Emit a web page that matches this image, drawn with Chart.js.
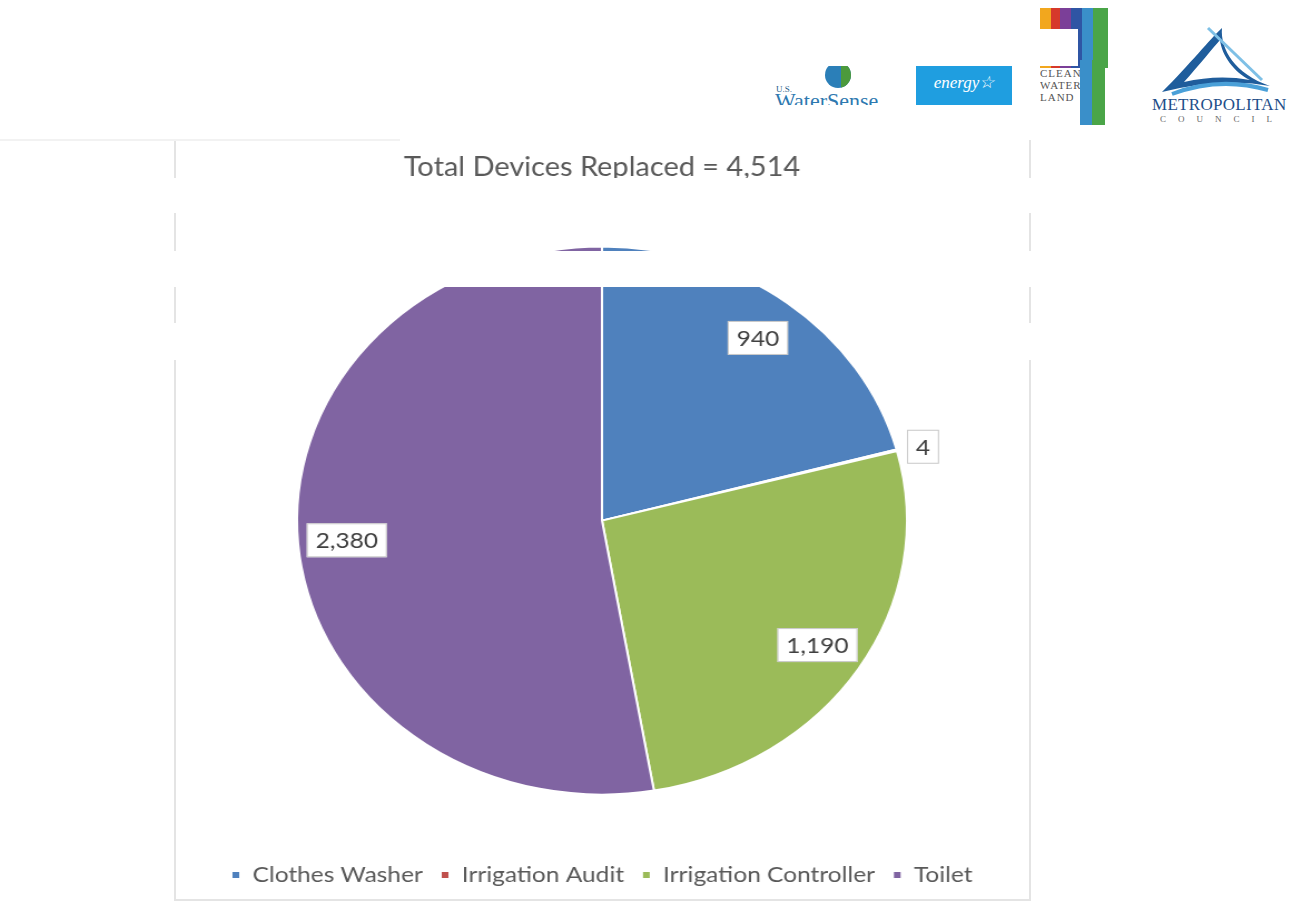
<!DOCTYPE html>
<html>
<head>
<meta charset="utf-8">
<script src="https://cdn.jsdelivr.net/npm/chart.js@4.4.1/dist/chart.umd.min.js"></script>
<style>
body{margin:0;background:#fff;width:1306px;height:903px;overflow:hidden;position:relative;font-family:Lato,"Open Sans",sans-serif}
.abs{position:absolute}
#wrap{position:absolute;left:218px;top:140px;width:768px;height:760px;transform:scaleX(1.113);transform-origin:center center}
.vline{position:absolute;width:2px;background:#e4e4e4}
.band{position:absolute;background:#fff}
</style>
</head>
<body>
<!-- chart frame -->
<div class="vline" style="left:174px;top:140px;height:760px"></div>
<div class="vline" style="left:1029px;top:140px;height:760px"></div>
<div class="abs" style="left:174px;top:899px;width:857px;height:2px;background:#e4e4e4"></div>

<div id="wrap"><canvas id="pie" width="768" height="760"></canvas></div>

<!-- white scan bands -->
<div class="band" style="left:160px;top:178px;width:890px;height:35px"></div>
<div class="band" style="left:160px;top:251px;width:890px;height:36px"></div>
<div class="band" style="left:160px;top:323px;width:30px;height:37px"></div>
<div class="band" style="left:1010px;top:323px;width:40px;height:37px"></div>
<div class="abs" style="left:0;top:139px;width:400px;height:2px;background:#f2f2f2"></div>

<!-- logos -->
<div class="abs" style="left:825px;top:62px;width:26px;height:26px;border-radius:50%;background:#2b7fb8;overflow:hidden"><div style="position:absolute;left:16px;top:0;width:14px;height:26px;background:#4c9a3c"></div></div>
<div class="abs" style="left:776px;top:84px;font:9px 'Liberation Serif';color:#2b5f8a">U.S.</div>
<div class="abs" style="left:775px;top:88px;width:125px;height:17px;overflow:hidden;font:22px 'Liberation Serif';color:#2e79b0;line-height:26px">WaterSense</div>
<div class="abs" style="left:916px;top:66px;width:96px;height:39px;background:#1f9ee0;color:#fff;font:italic 17px 'Liberation Serif';line-height:34px;text-align:center">energy&#9734;</div>
<div class="abs" style="left:1040px;top:8px;width:68px;height:60px;background:linear-gradient(90deg,#f2a71e 0 16%,#d6392b 16% 30%,#7b3f98 30% 45%,#2f55a4 45% 62%,#3a8fc9 62% 78%,#4aa548 78% 100%)"></div>
<div class="abs" style="left:1080px;top:60px;width:25px;height:65px;background:linear-gradient(90deg,#3a8fc9 0 50%,#4aa548 50% 100%)"></div>
<div class="band" style="left:750px;top:29px;width:328px;height:37px"></div>
<div class="abs" style="left:1040px;top:67px;width:40px;height:38px;overflow:hidden;font:11px 'Liberation Serif';color:#555;line-height:12px;letter-spacing:1px">CLEAN<br>WATER<br>LAND &amp;</div>
<svg class="abs" style="left:1150px;top:24px" width="130" height="75" viewBox="0 0 130 75">
<path d="M12 68 C40 40 60 15 72 4 C70 25 85 50 120 62 C90 56 50 58 12 68 Z" fill="#1f5d9c"/>
<path d="M34 58 C50 40 62 25 70 16 C72 32 84 48 100 56 C78 52 56 53 34 58 Z" fill="#fff"/>
<path d="M22 70 Q70 52 118 66" fill="none" stroke="#4aa0d8" stroke-width="4"/>
<path d="M58 4 L112 56" stroke="#7ec0e6" stroke-width="3"/>
</svg>
<div class="abs" style="left:1152px;top:95px;font:17px 'Liberation Serif';color:#1f4f8a;letter-spacing:0.3px">METROPOLITAN</div>
<div class="abs" style="left:1160px;top:114px;font:9px 'Liberation Serif';color:#666;letter-spacing:12px">COUNCIL</div>

<script>
const categories = ["Clothes Washer", "Irrigation Audit", "Irrigation Controller", "Toilet"]
const devices = [940, 4, 1190, 2380]
const labelText = ["940", "4", "1,190", "2,380"]
const colors = ["#4f81bd", "#c0504d", "#9bbb59", "#8064a2"]
const titleText = "Total Devices Replaced = 4,514"

/* LABEL BOXES */
const boxLabels = {
  id: "boxLabels",
  afterDatasetsDraw(chart){
    const ctx = chart.ctx
    const meta = chart.getDatasetMeta(0)
    const total = devices.reduce((a,b)=>a+b,0)
    ctx.save()
    ctx.font = "22px Lato"
    ctx.textAlign = "center"
    ctx.textBaseline = "middle"
    meta.data.forEach((arc,i)=>{
      const p = arc.getProps(["x","y","startAngle","endAngle","outerRadius"],true)
      const mid = (p.startAngle+p.endAngle)/2
      const small = devices[i]/total < 0.02
      const r = p.outerRadius*(small ? 1.05 : 0.84)
      let x = p.x+Math.cos(mid)*r
      const y = p.y+Math.sin(mid)*r
      const w = ctx.measureText(labelText[i]).width+16
      if(small) x += w/2-4
      ctx.fillStyle = "#fff"
      ctx.fillRect(x-w/2, y-17, w, 34)
      ctx.strokeStyle = "#c8c8c8"
      ctx.lineWidth = 1
      ctx.strokeRect(x-w/2+0.5, y-16.5, w-1, 33)
      ctx.fillStyle = "#404040"
      ctx.fillText(labelText[i], x, y+1)
    })
    ctx.restore()
  }
}

new Chart(document.getElementById("pie"),{
  type:"pie",
  data:{labels:categories,datasets:[{data:devices,backgroundColor:colors,borderColor:"#fff",borderWidth:2,radius:274}]},
  options:{
    responsive:false,
    animation:false,
    layout:{padding:{bottom:4}},
    plugins:{
      title:{display:true,text:titleText,color:"#595959",font:{family:"Lato",size:26,weight:"normal"},padding:{top:12,bottom:10}},
      legend:{position:"bottom",labels:{color:"#595959",font:{family:"Lato",size:22},boxWidth:8,boxHeight:8,padding:16}},
      tooltip:{enabled:false}
    }
  },
  plugins:[boxLabels]
})
</script>
</body>
</html>
